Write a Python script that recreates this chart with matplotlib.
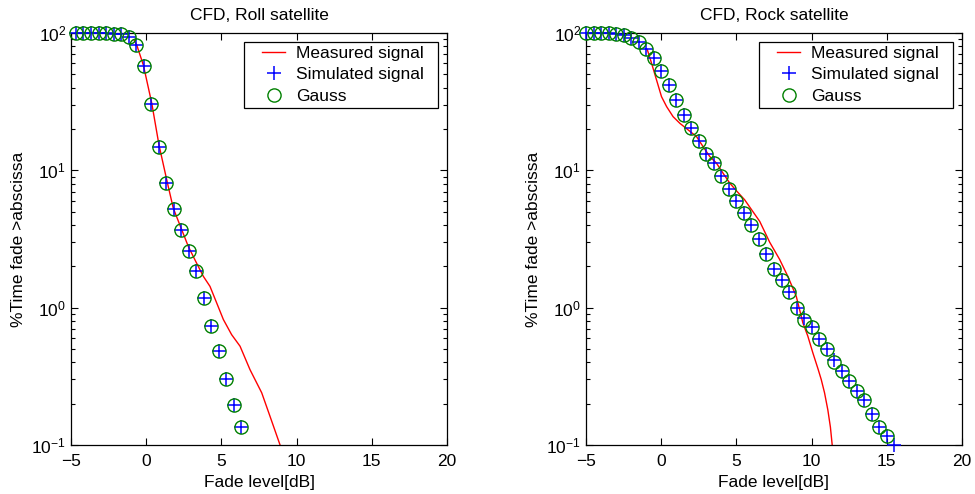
import numpy as np
import matplotlib
matplotlib.use("Agg")
import matplotlib.pyplot as plt
from matplotlib.ticker import LogLocator
from matplotlib.patches import Rectangle

plt.rcParams['font.family'] = ['Liberation Sans', 'DejaVu Sans']
plt.rcParams['mathtext.fontset'] = 'custom'
plt.rcParams['mathtext.rm'] = 'Liberation Sans'

# ---- Roll satellite ----
roll_x = [-4.67, -4.17, -3.67, -3.17, -2.67, -2.17, -1.67, -1.17, -0.67, -0.17,
          0.33, 0.83, 1.33, 1.83, 2.33, 2.83, 3.33, 3.83, 4.33, 4.83, 5.33, 5.83, 6.33]
roll_sim = [100, 100, 100, 100, 99.9, 98.4, 98.0, 93.0, 81.8, 57.5,
            30.5, 14.9, 8.15, 5.25, 3.69, 2.57, 1.84, 1.175, 0.74, 0.486, 0.30, 0.195, 0.136]
roll_gauss = [100, 100, 100, 100, 99.9, 98.4, 98.0, 93.0, 81.8, 57.5,
              30.5, 14.9, 8.15, 5.25, 3.69, 2.57, 1.84, 1.175, 0.74, 0.486, 0.30, 0.195, 0.136]
roll_meas_x = [-0.81, -0.63, -0.19, 0.37, 0.85, 1.40, 1.80, 2.36, 2.80, 3.24, 3.80,
               4.24, 4.69, 5.13, 5.68, 6.24, 6.90, 7.68, 8.23, 8.90]
roll_meas = [89, 81.8, 58.5, 30.8, 15.3, 8.2, 5.3, 3.7, 2.79, 2.23, 1.69,
             1.43, 1.08, 0.82, 0.636, 0.524, 0.354, 0.24, 0.162, 0.1]

# ---- Rock satellite ----
rock_x = [-5.0, -4.5, -4.0, -3.5, -3.0, -2.5, -2.0, -1.5, -1.0, -0.5,
          0.0, 0.5, 1.0, 1.5, 2.0, 2.5, 3.0, 3.5, 4.0, 4.5,
          5.0, 5.5, 6.0, 6.5, 7.0, 7.5, 8.0, 8.5, 9.0, 9.5,
          10.0, 10.5, 11.0, 11.5, 12.0, 12.5, 13.0, 13.5, 14.0, 14.5, 15.0, 15.5]
rock_sim = [100, 100, 100, 100, 98, 96.7, 91.5, 86.4, 76, 65.4,
            52.9, 41.9, 32.6, 25.3, 20.3, 16.4, 13.2, 11.3, 9.02, 7.33,
            6.0, 4.88, 3.97, 3.16, 2.47, 1.91, 1.58, 1.29, 1.0, 0.84,
            0.72, 0.59, 0.50, 0.414, 0.348, 0.294, 0.246, 0.211, 0.169, 0.136, 0.117, 0.100]
rock_gauss = [100, 100, 100, 100, 98, 96.7, 91.5, 86.4, 76, 65.4,
              52.9, 41.9, 32.6, 25.3, 20.3, 16.4, 13.2, 11.3, 9.02, 7.33,
              6.0, 4.88, 3.97, 3.16, 2.47, 1.91, 1.58, 1.29, 1.0, 0.82,
              0.72, 0.59, 0.50, 0.40, 0.348, 0.294, 0.246, 0.211, 0.169, 0.136, 0.117, 0.095]
rock_meas_x = [-0.93, -0.64, -0.31, 0.02, 0.36, 0.79, 1.24, 1.79, 2.35, 2.78, 3.23,
               3.67, 4.11, 4.56, 5.0, 5.55, 6.10, 6.55, 7.21, 7.87, 8.42, 8.98,
               9.42, 9.75, 10.08, 10.42, 10.64, 10.86, 11.08, 11.25, 11.37]
rock_meas = [76, 60.2, 45.5, 34.4, 29.1, 24.6, 22.0, 19.7, 17.6, 14.9, 12.6,
             11.3, 9.54, 8.07, 7.1, 6.1, 5.0, 4.25, 3.0, 2.25, 1.69, 1.21,
             0.775, 0.62, 0.47, 0.36, 0.30, 0.24, 0.18, 0.135, 0.1]

panels = [
    ("CFD, Roll satellite", roll_x, roll_sim, roll_gauss, roll_meas_x, roll_meas),
    ("CFD, Rock satellite", rock_x, rock_sim, rock_gauss, rock_meas_x, rock_meas),
]

XLIM = (-5, 20)
YLIM = (0.1, 100)
FS = 12.5

fig = plt.figure(figsize=(9.75, 4.94), dpi=100)
lefts = [71 / 975, 586 / 975]
width = 376 / 975
bottom = 1 - 445 / 494
height = 412 / 494

legends = []
for left, (title, x, sim, gauss, mx, my) in zip(lefts, panels):
    ax = fig.add_axes([left, bottom, width, height])
    ax.set_yscale('log')
    ax.set_xlim(*XLIM)
    ax.set_ylim(*YLIM)

    x = np.asarray(x)
    sim = np.asarray(sim)
    gauss = np.asarray(gauss)
    vs = sim >= YLIM[0] * 0.98
    vg = gauss >= YLIM[0] * 0.98

    ax.plot(mx, my, color='red', lw=1.0, label='Measured signal', zorder=2)
    ax.plot(x[vs], sim[vs], linestyle='none', marker='+', color='blue',
            markersize=9.5, markeredgewidth=1.1, label='Simulated signal',
            clip_on=False, zorder=3)
    ax.plot(x[vg], gauss[vg], linestyle='none', marker='o', markerfacecolor='none',
            markeredgecolor='#008000', markersize=9.5, markeredgewidth=1.0,
            label='Gauss', clip_on=False, zorder=4)

    ax.set_xticks([-5, 0, 5, 10, 15, 20])
    ax.yaxis.set_major_locator(LogLocator(base=10, numticks=10))
    ax.yaxis.set_minor_locator(LogLocator(base=10, subs=np.arange(2, 10), numticks=10))
    ax.tick_params(which='both', direction='in', top=True, right=True,
                   labelsize=FS, width=0.8, colors='black')
    ax.tick_params(which='major', length=5)
    ax.tick_params(which='minor', length=3)
    ax.tick_params(axis='x', which='major', pad=6.5)
    for s in ax.spines.values():
        s.set_linewidth(0.9)
        s.set_color('black')

    ax.set_title(title, fontsize=FS, pad=9)
    ax.set_xlabel('Fade level[dB]', fontsize=FS, labelpad=4)
    ax.set_ylabel('%Time fade >abscissa', fontsize=FS, labelpad=4)

    # legend contents without a frame; the box is drawn around them afterwards
    leg = ax.legend(loc='upper right', bbox_to_anchor=(1 - 23 / 376, 1 - 13 / 412),
                    bbox_transform=ax.transAxes, borderaxespad=0, borderpad=0,
                    fontsize=FS, frameon=False, handlelength=1.3,
                    handletextpad=0.65, labelspacing=0.35)
    leg.set_zorder(6)
    legends.append((ax, leg))

fig.canvas.draw()
renderer = fig.canvas.get_renderer()
for ax, leg in legends:
    bb = leg.get_window_extent(renderer)
    pad_l, pad_r, pad_v = 18, 14, 4
    box = Rectangle((bb.x0 - pad_l, bb.y0 - pad_v), bb.width + pad_l + pad_r,
                    bb.height + 2 * pad_v, transform=None, facecolor='white',
                    edgecolor='black', linewidth=0.9, zorder=5, clip_on=False)
    ax.add_artist(box)

fig.savefig('out.png', dpi=100)
